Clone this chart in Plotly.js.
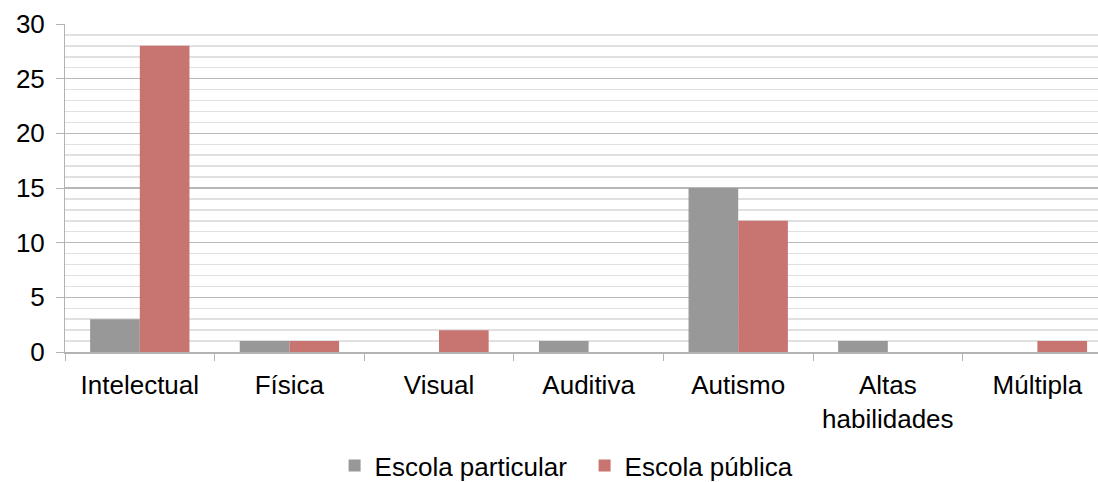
<!DOCTYPE html>
<html>
<head>
<meta charset="utf-8">
<script src="https://cdn.plot.ly/plotly-3.0.1.min.js"></script>
<style>
  html, body { margin: 0; padding: 0; background: #ffffff; }
  #chart { width: 1098px; height: 482px; }
</style>
</head>
<body>
<div id="chart"></div>
<script>
// Categories of disability and number of students per school type
const categories = ['Intelectual', 'Física', 'Visual', 'Auditiva', 'Autismo', 'Altas<br>habilidades', 'Múltipla'];
const escolaParticular = [3, 1, 0, 1, 15, 1, 0];
const escolaPublica = [28, 1, 2, 0, 12, 0, 1];
const seriesNames = ['Escola particular', 'Escola pública'];

const traces = [
  {
    type: 'bar',
    name: seriesNames[0],
    x: categories,
    y: escolaParticular,
    marker: { color: '#989898' },
    hoverinfo: 'x+y+name'
  },
  {
    type: 'bar',
    name: seriesNames[1],
    x: categories,
    y: escolaPublica,
    marker: { color: '#c87571' },
    hoverinfo: 'x+y+name'
  }
];

const layout = {
  width: 1098,
  height: 482,
  margin: { l: 65, r: 0, t: 24, b: 130, autoexpand: false },
  paper_bgcolor: '#ffffff',
  plot_bgcolor: '#ffffff',
  font: { family: '"Liberation Sans", Arial, sans-serif', size: 26, color: '#000000' },
  barmode: 'group',
  bargap: 0.336,
  bargroupgap: 0,
  showlegend: true,
  legend: {
    orientation: 'h',
    x: 0.261,
    xanchor: 'left',
    y: -0.346,
    yanchor: 'middle',
    font: { size: 26 },
    itemwidth: 30,
    entrywidth: 205,
    entrywidthmode: 'pixels',
    tracegroupgap: 0
  },
  xaxis: {
    type: 'category',
    range: [-0.5, 6.405],
    showline: true,
    linecolor: '#b3b3b3',
    linewidth: 2,
    ticks: 'outside',
    tickson: 'boundaries',
    ticklen: 7,
    tickcolor: '#b3b3b3',
    tickwidth: 1,
    ticklabelstandoff: 9,
    showgrid: false,
    zeroline: false,
    tickfont: { size: 26 },
    automargin: false
  },
  yaxis: {
    range: [0, 30],
    dtick: 5,
    tick0: 0,
    showline: true,
    linecolor: '#b3b3b3',
    linewidth: 1,
    ticks: 'outside',
    ticklen: 8,
    tickcolor: '#b3b3b3',
    ticklabelstandoff: 6,
    showgrid: true,
    gridcolor: '#b8b8b8',
    gridwidth: 1.5,
    zeroline: false,
    tickfont: { size: 26 },
    minor: { dtick: 1, showgrid: true, gridcolor: '#e0e0e0', gridwidth: 1.5 },
    automargin: false
  }
};

Plotly.newPlot('chart', traces, layout, { displayModeBar: false, staticPlot: true });
</script>
</body>
</html>
